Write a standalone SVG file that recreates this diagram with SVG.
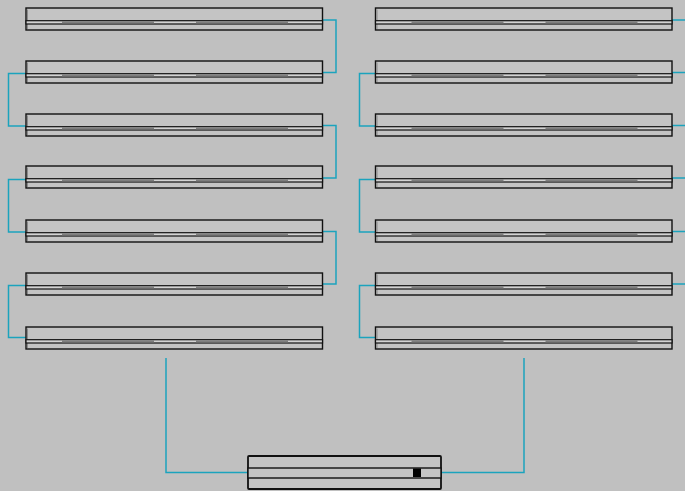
<svg xmlns="http://www.w3.org/2000/svg" xmlns:xlink="http://www.w3.org/1999/xlink" width="685" height="491" viewBox="0 0 685 491">
<style>
.bg{fill:#c0c0c0}
.box{fill:#c4c4c4;stroke:#111;stroke-width:1.4}
.band{fill:#d2d2d2;stroke:#111;stroke-width:1.2}
.dk{fill:#7e7e7e}
.sh{fill:none;stroke:#8a8a8a;stroke-width:1}
.wire{fill:none;stroke:#1ba3bd;stroke-width:1.5}
</style>
<defs>
<g id="bar">
<rect class="box" x="0" y="0" width="296.5" height="22"/>
<path class="sh" d="M1.5,21 V1.5"/>
<rect class="band" x="0" y="12.7" width="296.5" height="3.3"/>
<rect class="dk" x="36" y="13.3" width="92" height="2"/>
<rect class="dk" x="170" y="13.3" width="92" height="2"/>
</g>
</defs>
<rect class="bg" x="0" y="0" width="685" height="491"/>
<g id="connectors">
<path class="wire" d="M322,20 H336 V72.5 H322"/>
<path class="wire" d="M322,125.5 H336 V178 H322"/>
<path class="wire" d="M322,231.5 H336 V284 H322"/>
<path class="wire" d="M26,73.5 H8.5 V126 H26"/>
<path class="wire" d="M26,179.5 H8.5 V232 H26"/>
<path class="wire" d="M26,285.5 H8.5 V337.5 H26"/>
<path class="wire" d="M375,73.5 H359.5 V126 H375"/>
<path class="wire" d="M375,179.5 H359.5 V232 H375"/>
<path class="wire" d="M375,285.5 H359.5 V337.5 H375"/>
<path class="wire" d="M672,20 H685 M672,72.5 H685 M672,125.5 H685 M672,178 H685 M672,231.5 H685 M672,284 H685"/>
<path class="wire" d="M166,358 V472.5 H248"/>
<path class="wire" d="M524,358 V472.5 H441"/>
</g>
<g id="L1"><use xlink:href="#bar" x="26" y="8"/></g>
<g id="L2"><use xlink:href="#bar" x="26" y="61"/></g>
<g id="L3"><use xlink:href="#bar" x="26" y="114"/></g>
<g id="L4"><use xlink:href="#bar" x="26" y="166"/></g>
<g id="L5"><use xlink:href="#bar" x="26" y="220"/></g>
<g id="L6"><use xlink:href="#bar" x="26" y="273"/></g>
<g id="L7"><use xlink:href="#bar" x="26" y="327"/></g>
<g id="R1"><use xlink:href="#bar" x="375.5" y="8"/></g>
<g id="R2"><use xlink:href="#bar" x="375.5" y="61"/></g>
<g id="R3"><use xlink:href="#bar" x="375.5" y="114"/></g>
<g id="R4"><use xlink:href="#bar" x="375.5" y="166"/></g>
<g id="R5"><use xlink:href="#bar" x="375.5" y="220"/></g>
<g id="R6"><use xlink:href="#bar" x="375.5" y="273"/></g>
<g id="R7"><use xlink:href="#bar" x="375.5" y="327"/></g>
<g id="bottom">
<rect x="248" y="456" width="193" height="33" rx="1" fill="#c4c4c4" stroke="#111" stroke-width="1.8"/>
<rect x="248" y="468" width="193" height="10" fill="#c4c4c4" stroke="#111" stroke-width="1.4"/>
<rect x="413" y="468.5" width="8" height="8.5" fill="#000"/>
</g>
</svg>
